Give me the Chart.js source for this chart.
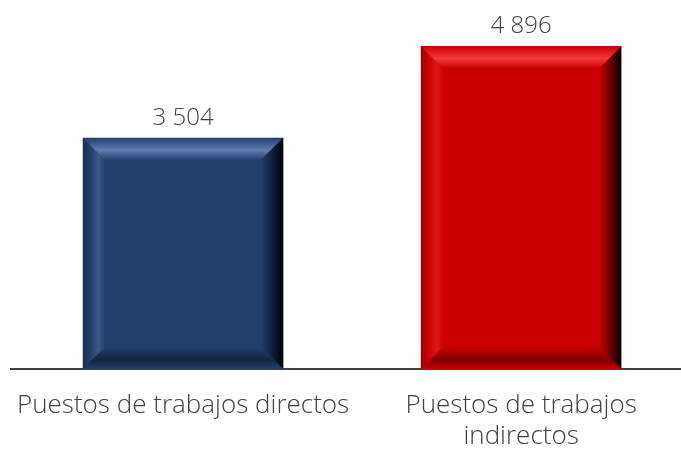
<!DOCTYPE html>
<html>
<head>
<meta charset="utf-8">
<script src="https://cdn.jsdelivr.net/npm/chart.js@4"></script>
<style>
  html, body { margin: 0; padding: 0; background: #fff; }
  #wrap { width: 681px; height: 449px; }
</style>
</head>
<body>
<div id="wrap"><canvas id="puestos"></canvas></div>
<script>
var categories = [['Puestos de trabajos directos'], ['Puestos de trabajos', 'indirectos']];
var values = [3504, 4896];
var barColors = ['#243f6d', '#cc0000'];
var lightColors = ['#5d7db3', '#f43a3a'];
var darkColors = ['#0b1a33', '#5a0000'];

function fmt(v) {
  return String(v).replace(/\B(?=(\d{3})+(?!\d))/g, ' ');
}

// bevel look + value labels on top of each bar
var bevel = {
  id: 'bevel',
  afterDatasetsDraw: function (chart) {
    var c = chart.ctx;
    var meta = chart.getDatasetMeta(0);
    meta.data.forEach(function (bar, i) {
      var l = bar.x - bar.width / 2, r = bar.x + bar.width / 2;
      var t = bar.y, b = bar.base, s = 22;
      var g;
      c.save();
      // top
      g = c.createLinearGradient(0, t, 0, t + s);
      g.addColorStop(0, barColors[i]);
      g.addColorStop(0.55, lightColors[i]);
      g.addColorStop(1, barColors[i]);
      c.fillStyle = g;
      c.beginPath(); c.moveTo(l, t); c.lineTo(r, t); c.lineTo(r - s, t + s); c.lineTo(l + s, t + s); c.closePath(); c.fill();
      // left
      g = c.createLinearGradient(l, 0, l + s, 0);
      g.addColorStop(0, darkColors[i]);
      g.addColorStop(0.35, barColors[i]);
      g.addColorStop(0.7, lightColors[i]);
      g.addColorStop(1, barColors[i]);
      c.globalAlpha = 0.4;
      c.fillStyle = g;
      c.beginPath(); c.moveTo(l, t); c.lineTo(l + s, t + s); c.lineTo(l + s, b - s); c.lineTo(l, b); c.closePath(); c.fill();
      c.globalAlpha = 1;
      // right
      g = c.createLinearGradient(r - s, 0, r, 0);
      g.addColorStop(0, barColors[i]);
      g.addColorStop(0.6, darkColors[i]);
      g.addColorStop(1, '#000');
      c.fillStyle = g;
      c.beginPath(); c.moveTo(r, t); c.lineTo(r, b); c.lineTo(r - s, b - s); c.lineTo(r - s, t + s); c.closePath(); c.fill();
      // bottom
      g = c.createLinearGradient(0, b - s, 0, b);
      g.addColorStop(0, barColors[i]);
      g.addColorStop(0.6, darkColors[i]);
      g.addColorStop(1, barColors[i]);
      c.globalAlpha = 0.7;
      c.fillStyle = g;
      c.beginPath(); c.moveTo(l, b); c.lineTo(r, b); c.lineTo(r - s, b - s); c.lineTo(l + s, b - s); c.closePath(); c.fill();
      c.restore();

      c.save();
      c.font = '300 24px "Open Sans", sans-serif';
      c.fillStyle = '#404040';
      c.textAlign = 'center';
      c.textBaseline = 'middle';
      c.fillText(fmt(values[i]), bar.x, t - 20);
      c.restore();
    });
  }
};

new Chart(document.getElementById('puestos'), {
  type: 'bar',
  data: {
    datasets: [{
      data: values.map(function (v, i) { return { x: i, y: v }; }),
      backgroundColor: barColors,
      borderWidth: 0,
      barThickness: 200
    }]
  },
  options: {
    responsive: true,
    maintainAspectRatio: false,
    animation: false,
    layout: { padding: { left: 11, right: 0, top: 0, bottom: 0 } },
    plugins: { legend: { display: false }, tooltip: { enabled: false } },
    scales: {
      x: {
        type: 'linear',
        offset: false,
        min: -0.509,
        max: 1.473,
        afterFit: function (s) {
          s.height = 80;
          s.paddingLeft = 0;
          s.paddingRight = 0;
        },
        afterBuildTicks: function (s) {
          s.ticks = categories.map(function (c, i) { return { value: i }; });
        },
        grid: { display: false, drawTicks: false, offset: false },
        border: { display: true, color: '#404040', width: 2 },
        ticks: {
          padding: 21,
          maxRotation: 0,
          autoSkip: false,
          color: '#404040',
          font: { family: '"Open Sans", sans-serif', size: 26, weight: 300, lineHeight: 1.2 },
          callback: function (v) { return categories[v]; }
        }
      },
      y: {
        display: false,
        min: 0,
        max: 5600
      }
    }
  },
  plugins: [bevel]
});
</script>
</body>
</html>
